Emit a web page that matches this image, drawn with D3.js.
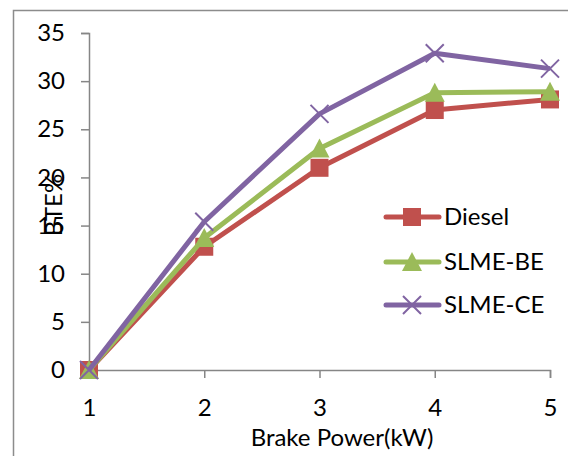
<!DOCTYPE html>
<html><head><meta charset="utf-8">
<script src="https://cdn.jsdelivr.net/npm/d3@7/dist/d3.min.js"></script>
<style>html,body{margin:0;padding:0;background:#fff;}svg{display:block;font-family:Lato,sans-serif;}</style>
</head><body>
<svg id="c" width="568" height="456"></svg>
<script>
const xCategories = [1, 2, 3, 4, 5];
const yTicks = [0, 5, 10, 15, 20, 25, 30, 35];
const seriesNames = ["Diesel", "SLME-BE", "SLME-CE"];
const diesel = [0, 12.8, 21.0, 27.0, 28.1];
const slmeBE = [0, 13.7, 23.0, 28.8, 28.9];
const slmeCE = [0, 15.4, 26.6, 32.9, 31.3];
const colors = ["#C0504D", "#9BBB59", "#8064A2"];
const markers = ["square", "triangle", "x"];
const FONT = "Lato";
const FS = 24;

const svg = d3.select("#c");
// outer border
svg.append("rect").attr("x", 13.5).attr("y", 10.5).attr("width", 700).attr("height", 700)
  .attr("fill", "none").attr("stroke", "#8c8c8c").attr("stroke-width", 1.5);

const x = d3.scaleLinear().domain([1, 5]).range([89, 550]);
const y = d3.scaleLinear().domain([0, 35]).range([370, 33]);
const axisColor = "#868686";

const yAxis = svg.append("g").attr("transform", "translate(89,0)")
  .call(d3.axisLeft(y).tickValues(yTicks).tickSize(8).tickPadding(16).tickFormat(d3.format("d")));
yAxis.select(".domain").attr("stroke", axisColor).attr("stroke-width", 1.5);
yAxis.selectAll(".tick line").attr("stroke", axisColor).attr("stroke-width", 1.5);
yAxis.selectAll(".tick text").attr("font-size", FS).attr("fill", "#000").attr("font-family", FONT);

const xAxis = svg.append("g").attr("transform", "translate(0,370)")
  .call(d3.axisBottom(x).tickValues(xCategories).tickSize(8).tickPadding(21).tickFormat(d3.format("d")));
xAxis.select(".domain").attr("stroke", axisColor).attr("stroke-width", 1.5);
xAxis.selectAll(".tick line").attr("stroke", axisColor).attr("stroke-width", 1.5);
xAxis.selectAll(".tick text").attr("font-size", FS).attr("fill", "#000").attr("font-family", FONT);

svg.append("text").attr("x", 342).attr("y", 446).attr("text-anchor", "middle")
  .attr("font-size", FS).attr("font-family", FONT).text("Brake Power(kW)");
svg.append("text").attr("transform", "translate(62,205) rotate(-90)").attr("text-anchor", "middle")
  .attr("font-size", FS).attr("font-family", FONT).text("BTE%");

const data = [diesel, slmeBE, slmeCE];
const line = d3.line().x((d, i) => x(xCategories[i])).y(d => y(d));

function drawMarker(g, type, cx, cy, color) {
  if (type === "square") {
    g.append("rect").attr("x", cx - 9).attr("y", cy - 9).attr("width", 18).attr("height", 18).attr("fill", color);
  } else if (type === "triangle") {
    g.append("path").attr("d", `M${cx},${cy - 10}L${cx + 10},${cy + 9}L${cx - 10},${cy + 9}Z`).attr("fill", color);
  } else {
    g.append("path").attr("d", `M${cx - 9},${cy - 9}L${cx + 9},${cy + 9}M${cx - 9},${cy + 9}L${cx + 9},${cy - 9}`)
      .attr("stroke", color).attr("stroke-width", 2).attr("fill", "none");
  }
}

data.forEach((vals, s) => {
  const g = svg.append("g");
  g.append("path").datum(vals).attr("d", line).attr("fill", "none")
    .attr("stroke", colors[s]).attr("stroke-width", 5).attr("stroke-linejoin", "round");
  vals.forEach((v, i) => drawMarker(g, markers[s], x(xCategories[i]), y(v), colors[s]));
});

// legend
const legY = [217, 262, 305];
seriesNames.forEach((name, s) => {
  const g = svg.append("g");
  g.append("line").attr("x1", 386).attr("x2", 439).attr("y1", legY[s]).attr("y2", legY[s])
    .attr("stroke", colors[s]).attr("stroke-width", 5).attr("stroke-linecap", "round");
  drawMarker(g, markers[s], 412, legY[s], colors[s]);
  g.append("text").attr("x", 444).attr("y", legY[s]).attr("dy", "0.35em")
    .attr("font-size", FS).attr("font-family", FONT).text(name);
});
</script>
</body></html>
